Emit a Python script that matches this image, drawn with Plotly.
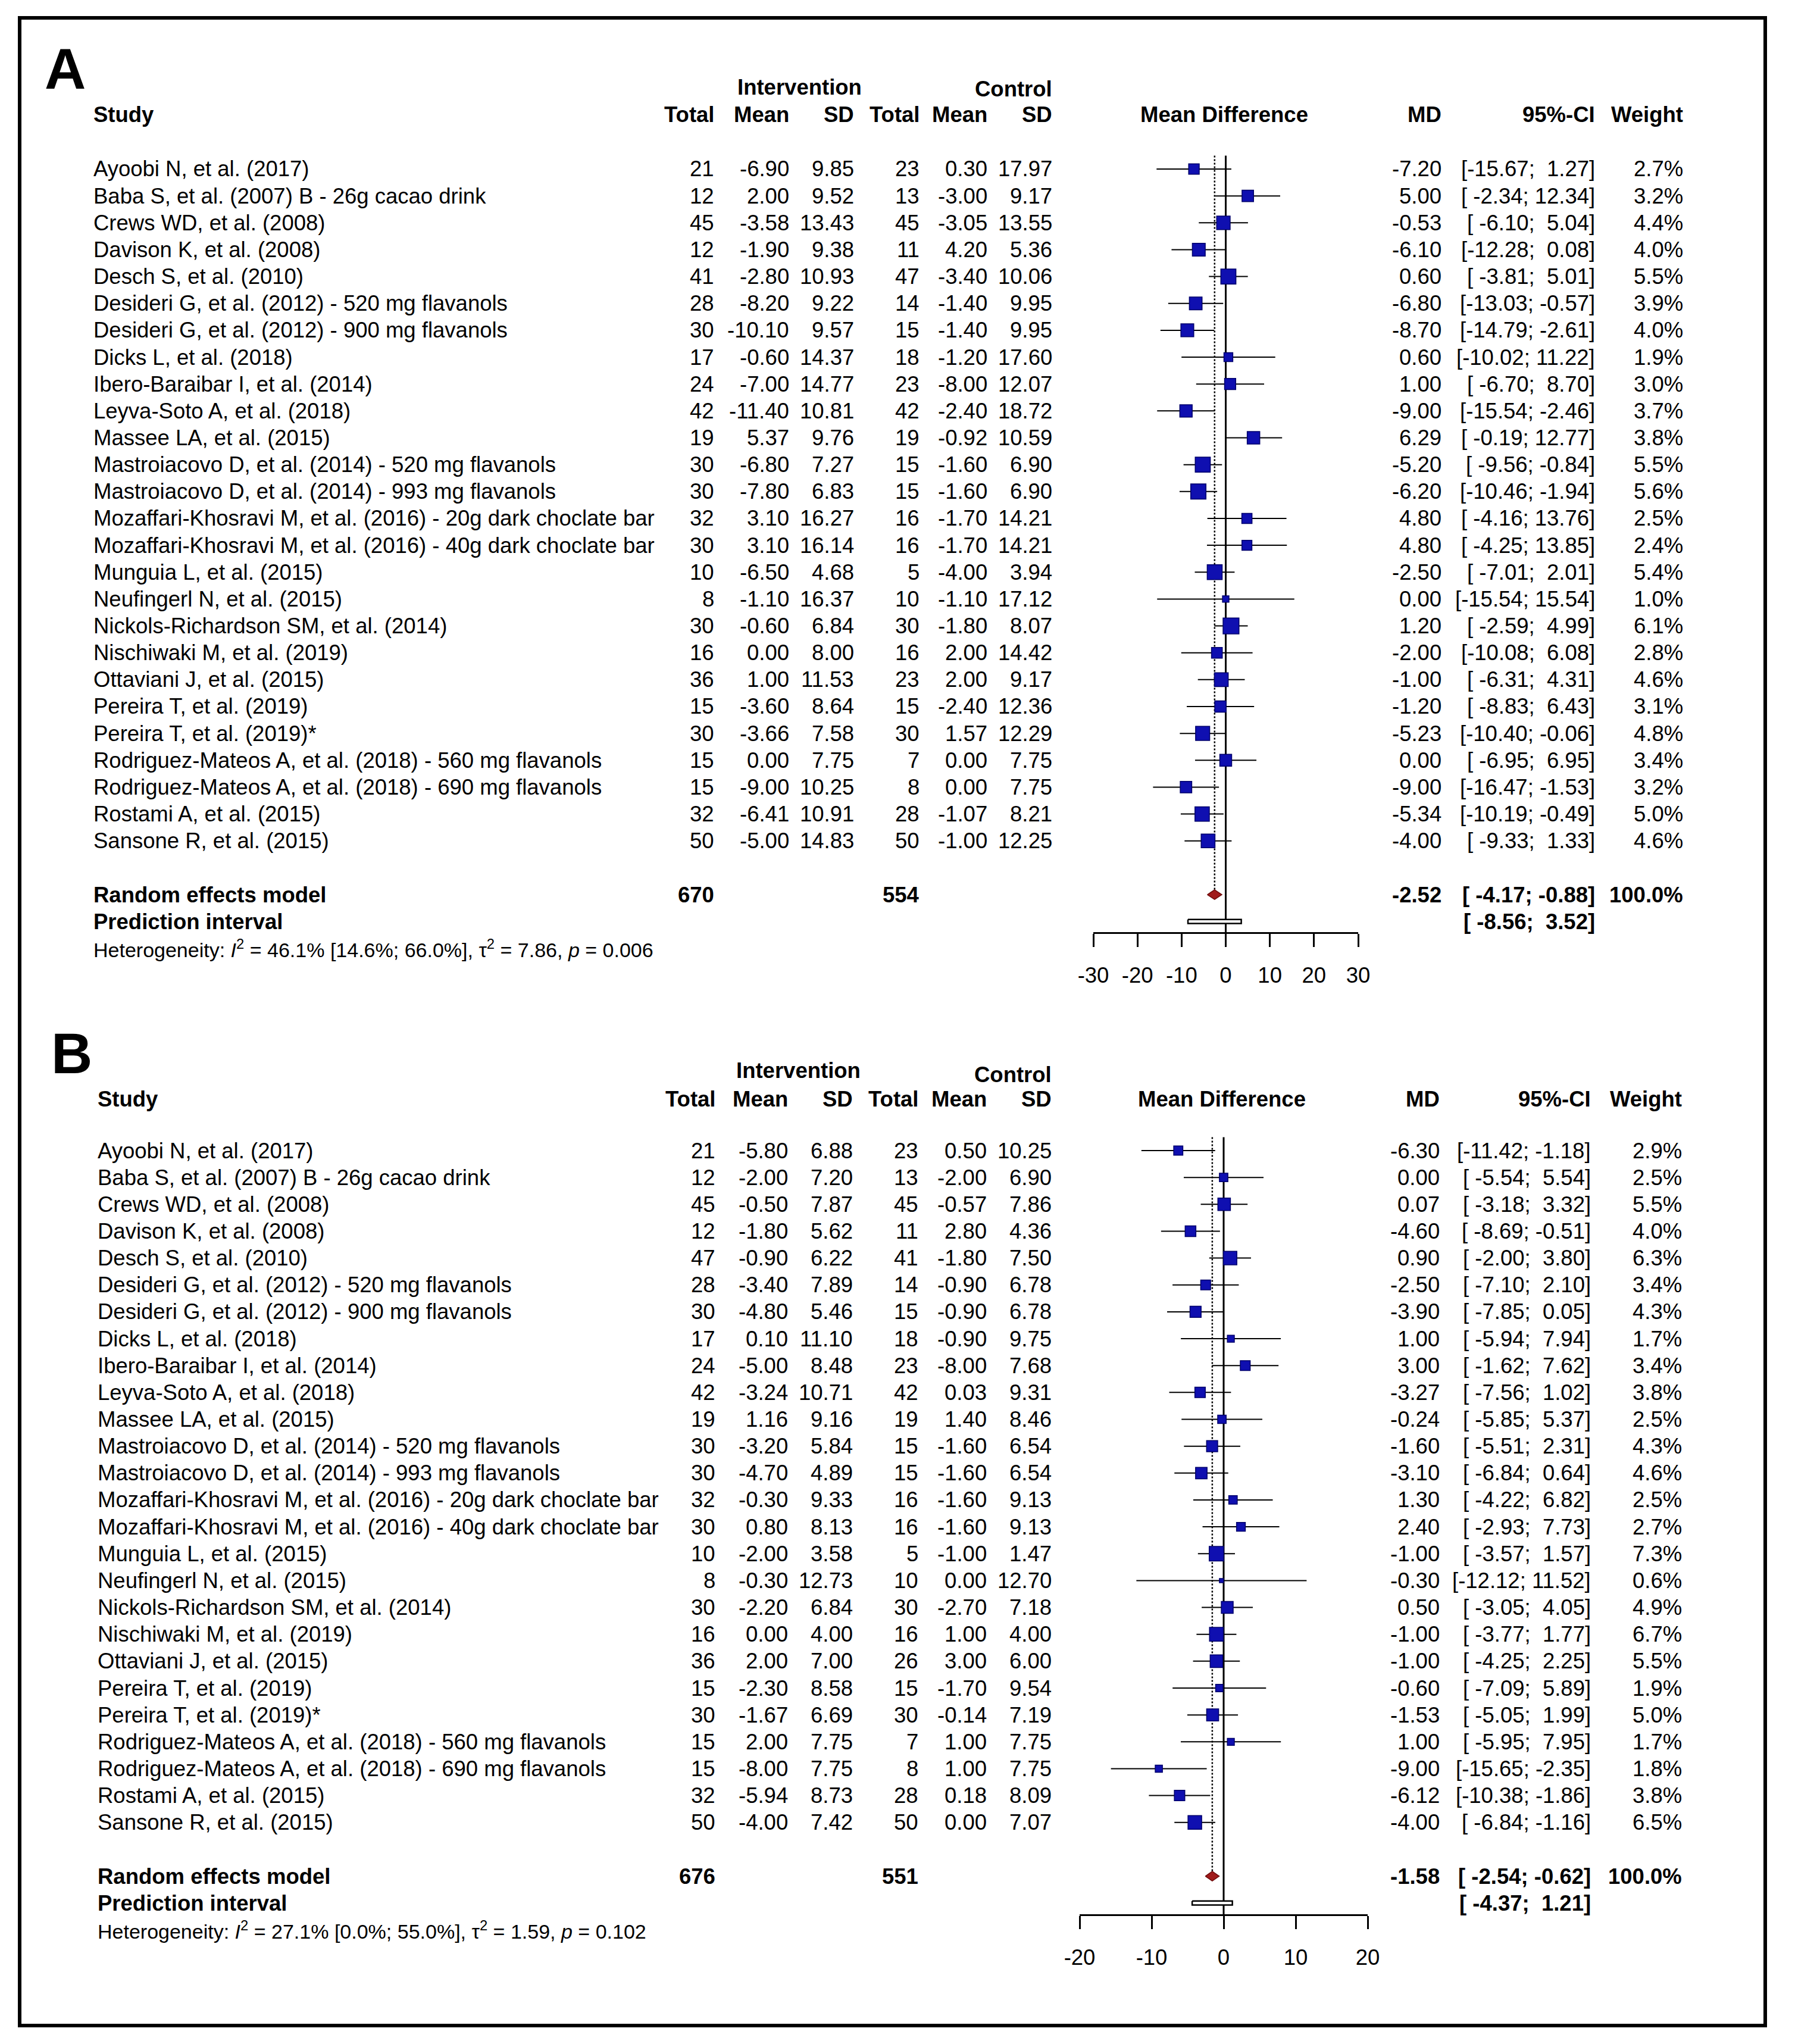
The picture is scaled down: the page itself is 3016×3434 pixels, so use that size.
import plotly.graph_objects as go
import numpy as np

W, H = 3016, 3434
FONT = "Liberation Sans, Arial, Helvetica, sans-serif"

# ---------------- DATA : panel A ----------------
studies_A = [
    "Ayoobi N, et al. (2017)",
    "Baba S, et al. (2007) B - 26g cacao drink",
    "Crews WD, et al. (2008)",
    "Davison K, et al. (2008)",
    "Desch S, et al. (2010)",
    "Desideri G, et al. (2012) - 520 mg flavanols",
    "Desideri G, et al. (2012) - 900 mg flavanols",
    "Dicks L, et al. (2018)",
    "Ibero-Baraibar I, et al. (2014)",
    "Leyva-Soto A, et al. (2018)",
    "Massee LA, et al. (2015)",
    "Mastroiacovo D, et al. (2014) - 520 mg flavanols",
    "Mastroiacovo D, et al. (2014) - 993 mg flavanols",
    "Mozaffari-Khosravi M, et al. (2016) - 20g dark choclate bar",
    "Mozaffari-Khosravi M, et al. (2016) - 40g dark choclate bar",
    "Munguia L, et al. (2015)",
    "Neufingerl N, et al. (2015)",
    "Nickols-Richardson SM, et al. (2014)",
    "Nischiwaki M, et al. (2019)",
    "Ottaviani J, et al. (2015)",
    "Pereira T, et al. (2019)",
    "Pereira T, et al. (2019)*",
    "Rodriguez-Mateos A, et al. (2018) - 560 mg flavanols",
    "Rodriguez-Mateos A, et al. (2018) - 690 mg flavanols",
    "Rostami A, et al. (2015)",
    "Sansone R, et al. (2015)",
]
tot_int_A = [21, 12, 45, 12, 41, 28, 30, 17, 24, 42, 19, 30, 30, 32, 30, 10, 8, 30, 16, 36, 15, 30, 15, 15, 32, 50]
mean_int_A = [-6.90, 2.00, -3.58, -1.90, -2.80, -8.20, -10.10, -0.60, -7.00, -11.40, 5.37, -6.80, -7.80, 3.10, 3.10,
              -6.50, -1.10, -0.60, 0.00, 1.00, -3.60, -3.66, 0.00, -9.00, -6.41, -5.00]
sd_int_A = [9.85, 9.52, 13.43, 9.38, 10.93, 9.22, 9.57, 14.37, 14.77, 10.81, 9.76, 7.27, 6.83, 16.27, 16.14,
            4.68, 16.37, 6.84, 8.00, 11.53, 8.64, 7.58, 7.75, 10.25, 10.91, 14.83]
tot_ctl_A = [23, 13, 45, 11, 47, 14, 15, 18, 23, 42, 19, 15, 15, 16, 16, 5, 10, 30, 16, 23, 15, 30, 7, 8, 28, 50]
mean_ctl_A = [0.30, -3.00, -3.05, 4.20, -3.40, -1.40, -1.40, -1.20, -8.00, -2.40, -0.92, -1.60, -1.60, -1.70, -1.70,
              -4.00, -1.10, -1.80, 2.00, 2.00, -2.40, 1.57, 0.00, 0.00, -1.07, -1.00]
sd_ctl_A = [17.97, 9.17, 13.55, 5.36, 10.06, 9.95, 9.95, 17.60, 12.07, 18.72, 10.59, 6.90, 6.90, 14.21, 14.21,
            3.94, 17.12, 8.07, 14.42, 9.17, 12.36, 12.29, 7.75, 7.75, 8.21, 12.25]
md_A = [-7.20, 5.00, -0.53, -6.10, 0.60, -6.80, -8.70, 0.60, 1.00, -9.00, 6.29, -5.20, -6.20, 4.80, 4.80,
        -2.50, 0.00, 1.20, -2.00, -1.00, -1.20, -5.23, 0.00, -9.00, -5.34, -4.00]
ci_lo_A = [-15.67, -2.34, -6.10, -12.28, -3.81, -13.03, -14.79, -10.02, -6.70, -15.54, -0.19, -9.56, -10.46, -4.16, -4.25,
           -7.01, -15.54, -2.59, -10.08, -6.31, -8.83, -10.40, -6.95, -16.47, -10.19, -9.33]
ci_hi_A = [1.27, 12.34, 5.04, 0.08, 5.01, -0.57, -2.61, 11.22, 8.70, -2.46, 12.77, -0.84, -1.94, 13.76, 13.85,
           2.01, 15.54, 4.99, 6.08, 4.31, 6.43, -0.06, 6.95, -1.53, -0.49, 1.33]
weight_A = [2.7, 3.2, 4.4, 4.0, 5.5, 3.9, 4.0, 1.9, 3.0, 3.7, 3.8, 5.5, 5.6, 2.5, 2.4,
            5.4, 1.0, 6.1, 2.8, 4.6, 3.1, 4.8, 3.4, 3.2, 5.0, 4.6]
re_tot_int_A, re_tot_ctl_A = 670, 554
re_md_A, re_lo_A, re_hi_A = -2.52, -4.17, -0.88
pi_lo_A, pi_hi_A = -8.56, 3.52
i2_A, i2_lo_A, i2_hi_A, tau2_A, p_A = 46.1, 14.6, 66.0, 7.86, "0.006"
ticks_A = [-30, -20, -10, 0, 10, 20, 30]

# ---------------- DATA : panel B ----------------
studies_B = list(studies_A)
tot_int_B = [21, 12, 45, 12, 47, 28, 30, 17, 24, 42, 19, 30, 30, 32, 30, 10, 8, 30, 16, 36, 15, 30, 15, 15, 32, 50]
mean_int_B = [-5.80, -2.00, -0.50, -1.80, -0.90, -3.40, -4.80, 0.10, -5.00, -3.24, 1.16, -3.20, -4.70, -0.30, 0.80,
              -2.00, -0.30, -2.20, 0.00, 2.00, -2.30, -1.67, 2.00, -8.00, -5.94, -4.00]
sd_int_B = [6.88, 7.20, 7.87, 5.62, 6.22, 7.89, 5.46, 11.10, 8.48, 10.71, 9.16, 5.84, 4.89, 9.33, 8.13,
            3.58, 12.73, 6.84, 4.00, 7.00, 8.58, 6.69, 7.75, 7.75, 8.73, 7.42]
tot_ctl_B = [23, 13, 45, 11, 41, 14, 15, 18, 23, 42, 19, 15, 15, 16, 16, 5, 10, 30, 16, 26, 15, 30, 7, 8, 28, 50]
mean_ctl_B = [0.50, -2.00, -0.57, 2.80, -1.80, -0.90, -0.90, -0.90, -8.00, 0.03, 1.40, -1.60, -1.60, -1.60, -1.60,
              -1.00, 0.00, -2.70, 1.00, 3.00, -1.70, -0.14, 1.00, 1.00, 0.18, 0.00]
sd_ctl_B = [10.25, 6.90, 7.86, 4.36, 7.50, 6.78, 6.78, 9.75, 7.68, 9.31, 8.46, 6.54, 6.54, 9.13, 9.13,
            1.47, 12.70, 7.18, 4.00, 6.00, 9.54, 7.19, 7.75, 7.75, 8.09, 7.07]
md_B = [-6.30, 0.00, 0.07, -4.60, 0.90, -2.50, -3.90, 1.00, 3.00, -3.27, -0.24, -1.60, -3.10, 1.30, 2.40,
        -1.00, -0.30, 0.50, -1.00, -1.00, -0.60, -1.53, 1.00, -9.00, -6.12, -4.00]
ci_lo_B = [-11.42, -5.54, -3.18, -8.69, -2.00, -7.10, -7.85, -5.94, -1.62, -7.56, -5.85, -5.51, -6.84, -4.22, -2.93,
           -3.57, -12.12, -3.05, -3.77, -4.25, -7.09, -5.05, -5.95, -15.65, -10.38, -6.84]
ci_hi_B = [-1.18, 5.54, 3.32, -0.51, 3.80, 2.10, 0.05, 7.94, 7.62, 1.02, 5.37, 2.31, 0.64, 6.82, 7.73,
           1.57, 11.52, 4.05, 1.77, 2.25, 5.89, 1.99, 7.95, -2.35, -1.86, -1.16]
weight_B = [2.9, 2.5, 5.5, 4.0, 6.3, 3.4, 4.3, 1.7, 3.4, 3.8, 2.5, 4.3, 4.6, 2.5, 2.7,
            7.3, 0.6, 4.9, 6.7, 5.5, 1.9, 5.0, 1.7, 1.8, 3.8, 6.5]
re_tot_int_B, re_tot_ctl_B = 676, 551
re_md_B, re_lo_B, re_hi_B = -1.58, -2.54, -0.62
pi_lo_B, pi_hi_B = -4.37, 1.21
i2_B, i2_lo_B, i2_hi_B, tau2_B, p_B = 27.1, 0.0, 55.0, 1.59, "0.102"
ticks_B = [-20, -10, 0, 10, 20]

# ---------------- LAYOUT (pixel geometry, style only) ----------------
SPACING = 45.15
R_TOP, R_BOT = -5.0, 31.0
geomA = dict(letter="A", row0=284, label_row=-3.74, label_x=109, int_row=-3.05, ctl_row=-2.97, hdr_row=-2.02,
             study_x=155, cols=[1202, 1328, 1437, 1547, 1661, 1770], int_cx=1343, md_cx=2057,
             md_x=2424, ci_x=2682, w_x=2830, xdom=(1837, 2282), box_k=10.8, axis_off=2.42)
geomB = dict(letter="B", row0=1933, label_row=-3.62, label_x=121, int_row=-2.99, ctl_row=-2.83, hdr_row=-1.92,
             study_x=162, cols=[1204, 1326, 1435, 1545, 1660, 1769], int_cx=1341, md_cx=2053,
             md_x=2421, ci_x=2675, w_x=2828, xdom=(1814, 2298), box_k=9.0, axis_off=2.44)

FS = 36.5
FS_HET = 34
BOX_COL = "#0f0fb0"
BOX_EDGE = "#00006a"
DIA_COL = "#a01b1b"

fig = go.Figure()
annotations = []


def px(x):
    return x / W


def fmt_ci(lo, hi):
    s = "[" + f"{lo:6.2f}" + "; " + f"{hi:5.2f}" + "]"
    return s.replace(" ", "\u00a0")


def add_text(text, x, y, yref, anchor="right", size=FS, bold=False):
    if bold:
        text = "<b>" + text + "</b>"
    annotations.append(dict(text=text, x=px(x), y=y, xref="paper", yref=yref, xanchor=anchor,
                            yanchor="middle", showarrow=False,
                            font=dict(family=FONT, size=size, color="black")))


def build(idx, g, studies, ti, mi, si, tc, mc, sc, md, lo, hi, wt,
          re_ti, re_tc, re_md, re_lo, re_hi, pi_lo, pi_hi, i2, i2lo, i2hi, tau2, pval, ticks):
    xa = "x" if idx == 1 else "x2"
    ya = "y" if idx == 1 else "y2"
    n = len(studies)
    rows = list(range(n))
    re_row, pi_row, het_row, axis_row = n + 1, n + 2, n + 3, n + g["axis_off"]

    # ---- axes ----
    top_px = g["row0"] + SPACING * R_TOP
    bot_px = g["row0"] + SPACING * R_BOT
    ydom = [1 - bot_px / H, 1 - top_px / H]
    axis_pos = 1 - (g["row0"] + SPACING * axis_row) / H
    xkey = "xaxis" if idx == 1 else "xaxis2"
    ykey = "yaxis" if idx == 1 else "yaxis2"
    fig.layout[xkey] = dict(domain=[px(g["xdom"][0]), px(g["xdom"][1])], range=[ticks[0], ticks[-1]],
                            anchor="free", position=axis_pos, tickvals=ticks, automargin=False,
                            ticktext=[str(t) for t in ticks], ticks="outside", ticklen=22, tickwidth=3,
                            tickcolor="black", showline=True, linewidth=3, linecolor="black",
                            showgrid=False, zeroline=False, ticklabelstandoff=16,
                            tickfont=dict(family=FONT, size=FS, color="black"), fixedrange=True)
    fig.layout[ykey] = dict(domain=ydom, range=[R_BOT, R_TOP], visible=False, showgrid=False,
                            zeroline=False, anchor=xa, fixedrange=True, automargin=False)

    # ---- reference lines ----
    fig.add_trace(go.Scatter(x=[0, 0], y=[-0.5, axis_row], mode="lines", xaxis=xa, yaxis=ya,
                             line=dict(color="black", width=3), hoverinfo="skip"))
    fig.add_trace(go.Scatter(x=[re_md, re_md], y=[-0.5, re_row - 0.18], mode="lines", xaxis=xa, yaxis=ya,
                             line=dict(color="black", width=2.5, dash="dot"), hoverinfo="skip"))

    # ---- CI lines ----
    cx, cy = [], []
    for r, a, b in zip(rows, lo, hi):
        cx += [a, b, None]
        cy += [r, r, None]
    fig.add_trace(go.Scatter(x=cx, y=cy, mode="lines", xaxis=xa, yaxis=ya,
                             line=dict(color="black", width=2), hoverinfo="skip"))
    # ---- boxes (area proportional to weight) ----
    fig.add_trace(go.Scatter(x=md, y=rows, mode="markers", xaxis=xa, yaxis=ya,
                             marker=dict(symbol="square", size=[g["box_k"] * np.sqrt(w) for w in wt],
                                         color=BOX_COL, opacity=1.0,
                                         line=dict(color=BOX_EDGE, width=1.5)),
                             hoverinfo="skip"))
    # ---- diamond ----
    dh = 0.18
    fig.add_trace(go.Scatter(x=[re_lo, re_md, re_hi, re_md, re_lo],
                             y=[re_row, re_row - dh, re_row, re_row + dh, re_row],
                             mode="lines", fill="toself", fillcolor=DIA_COL, xaxis=xa, yaxis=ya,
                             line=dict(color="#6e0b0b", width=1.5), hoverinfo="skip"))
    # ---- prediction interval ----
    ph = 0.075
    fig.add_trace(go.Scatter(x=[pi_lo, pi_hi, pi_hi, pi_lo, pi_lo],
                             y=[pi_row - ph, pi_row - ph, pi_row + ph, pi_row + ph, pi_row - ph],
                             mode="lines", fill="toself", fillcolor="white", xaxis=xa, yaxis=ya,
                             line=dict(color="black", width=2.5), hoverinfo="skip"))

    # ---- texts ----
    annotations.append(dict(text="<b>" + g["letter"] + "</b>", x=px(g["label_x"]), y=g["label_row"],
                            xref="paper", yref=ya, xanchor="center", yanchor="middle", showarrow=False,
                            font=dict(family=FONT, size=96, color="black")))
    add_text("Intervention", g["int_cx"], g["int_row"], ya, anchor="center", bold=True)
    add_text("Control", g["cols"][5], g["ctl_row"], ya, bold=True)
    add_text("Study", g["study_x"], g["hdr_row"], ya, anchor="left", bold=True)
    for lab, xc in zip(["Total", "Mean", "SD", "Total", "Mean", "SD"], g["cols"]):
        add_text(lab, xc, g["hdr_row"], ya, bold=True)
    add_text("Mean Difference", g["md_cx"], g["hdr_row"], ya, anchor="center", bold=True)
    add_text("MD", g["md_x"], g["hdr_row"], ya, bold=True)
    add_text("95%-CI", g["ci_x"], g["hdr_row"], ya, bold=True)
    add_text("Weight", g["w_x"], g["hdr_row"], ya, bold=True)

    for r in rows:
        add_text(studies[r], g["study_x"], r, ya, anchor="left")
        vals = [str(ti[r]), f"{mi[r]:.2f}", f"{si[r]:.2f}", str(tc[r]), f"{mc[r]:.2f}", f"{sc[r]:.2f}"]
        for v, xc in zip(vals, g["cols"]):
            add_text(v, xc, r, ya)
        add_text(f"{md[r]:.2f}", g["md_x"], r, ya)
        add_text(fmt_ci(lo[r], hi[r]), g["ci_x"], r, ya)
        add_text(f"{wt[r]:.1f}%", g["w_x"], r, ya)

    add_text("Random effects model", g["study_x"], re_row, ya, anchor="left", bold=True)
    add_text(str(re_ti), g["cols"][0], re_row, ya, bold=True)
    add_text(str(re_tc), g["cols"][3], re_row, ya, bold=True)
    add_text(f"{re_md:.2f}", g["md_x"], re_row, ya, bold=True)
    add_text(fmt_ci(re_lo, re_hi), g["ci_x"], re_row, ya, bold=True)
    add_text(f"{100.0:.1f}%", g["w_x"], re_row, ya, bold=True)
    add_text("Prediction interval", g["study_x"], pi_row, ya, anchor="left", bold=True)
    add_text(fmt_ci(pi_lo, pi_hi), g["ci_x"], pi_row, ya, bold=True)
    het = (f"Heterogeneity: <i>I</i><sup>2</sup> = {i2:.1f}% [{i2lo:.1f}%; {i2hi:.1f}%], "
           f"\u03c4<sup>2</sup> = {tau2:.2f}, <i>p</i> = {pval}")
    add_text(het, g["study_x"], het_row, ya, anchor="left", size=FS_HET)


build(1, geomA, studies_A, tot_int_A, mean_int_A, sd_int_A, tot_ctl_A, mean_ctl_A, sd_ctl_A,
      md_A, ci_lo_A, ci_hi_A, weight_A, re_tot_int_A, re_tot_ctl_A, re_md_A, re_lo_A, re_hi_A,
      pi_lo_A, pi_hi_A, i2_A, i2_lo_A, i2_hi_A, tau2_A, p_A, ticks_A)
build(2, geomB, studies_B, tot_int_B, mean_int_B, sd_int_B, tot_ctl_B, mean_ctl_B, sd_ctl_B,
      md_B, ci_lo_B, ci_hi_B, weight_B, re_tot_int_B, re_tot_ctl_B, re_md_B, re_lo_B, re_hi_B,
      pi_lo_B, pi_hi_B, i2_B, i2_lo_B, i2_hi_B, tau2_B, p_B, ticks_B)

fig.update_layout(
    template="none",
    width=W, height=H, autosize=False, margin=dict(l=0, r=0, t=0, b=0, pad=0, autoexpand=False),
    paper_bgcolor="white", plot_bgcolor="rgba(0,0,0,0)", showlegend=False,
    annotations=annotations,
    shapes=[dict(type="rect", xref="paper", yref="paper", x0=px(33), x1=px(2966),
                 y0=1 - 3403 / H, y1=1 - 30 / H, line=dict(color="black", width=6), fillcolor="rgba(0,0,0,0)")],
)

fig.write_html("out.html", config={"displayModeBar": False, "responsive": False},
               post_script="document.body.style.margin='0px';document.body.style.overflow='hidden';")
